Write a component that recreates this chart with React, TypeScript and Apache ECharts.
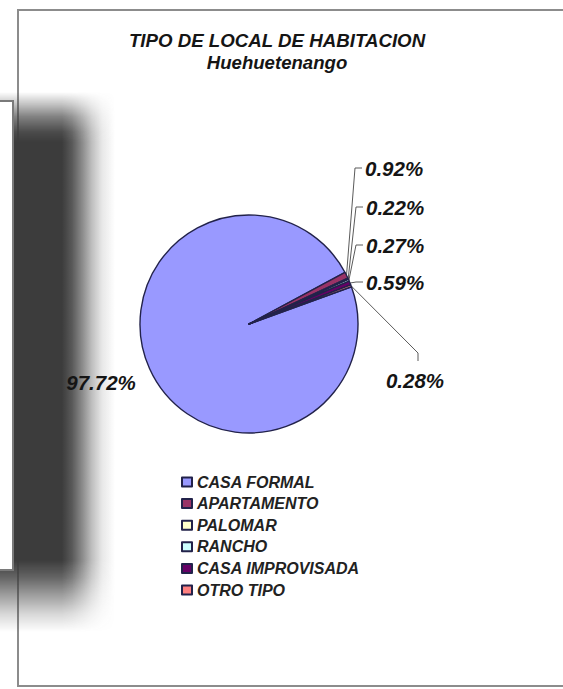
import React, { useEffect, useRef } from "react";
import * as echarts from "echarts";

// ---- data ----
const categories = [
  "CASA FORMAL",
  "APARTAMENTO",
  "PALOMAR",
  "RANCHO",
  "CASA IMPROVISADA",
  "OTRO TIPO",
];
const percentages = [97.72, 0.92, 0.22, 0.27, 0.59, 0.28];
const sliceColors = ["#9999FF", "#993366", "#FFFFCC", "#CCFFFF", "#660066", "#FF8080"];
const titleText = "TIPO DE LOCAL DE HABITACION";
const subtitleText = "Huehuetenango";

// ---- layout ----
const FONT = 'Arial, "Liberation Sans", Helvetica, sans-serif';
const CENTER: [number, number] = [249, 324];
const RADIUS = 109;
const START_ANGLE = 20;
// label anchor per slice, Excel-like leader placement
const labelSpots = [
  { x: 101, y: 382, align: "center", line: "none" },
  { x: 365, y: 168, align: "left", line: "up" },
  { x: 366, y: 207, align: "left", line: "up" },
  { x: 366, y: 245, align: "left", line: "up" },
  { x: 366, y: 282, align: "left", line: "up" },
  { x: 415, y: 380, align: "center", line: "down" },
];

function edgePoint(idx: number): [number, number] {
  const total = percentages.reduce((a, b) => a + b, 0);
  let acc = 0;
  for (let i = 0; i < idx; i++) acc += percentages[i];
  const mid = acc + percentages[idx] / 2;
  const ang = ((START_ANGLE - (mid / total) * 360) * Math.PI) / 180;
  return [CENTER[0] + RADIUS * Math.cos(ang), CENTER[1] - RADIUS * Math.sin(ang)];
}

// shadow box spans x -10..115, y 92..632
const shadowH =
  "linear-gradient(to right, rgba(60,60,60,1) 0px, rgba(60,60,60,1) 72px, rgba(60,60,60,0.85) 82px, rgba(60,60,60,0.6) 92px, rgba(60,60,60,0.33) 102px, rgba(60,60,60,0.12) 112px, rgba(60,60,60,0) 125px)";
const shadowV =
  "linear-gradient(to bottom, rgba(0,0,0,0) 0px, rgba(0,0,0,0.3) 12px, rgba(0,0,0,0.65) 25px, rgba(0,0,0,0.92) 40px, rgba(0,0,0,1) 50px, rgba(0,0,0,1) 468px, rgba(0,0,0,0.8) 485px, rgba(0,0,0,0.5) 503px, rgba(0,0,0,0.2) 522px, rgba(0,0,0,0) 540px)";

export default function App() {
  const ref = useRef<HTMLDivElement>(null);

  useEffect(() => {
    if (!ref.current) return;
    const chart = echarts.init(ref.current, undefined, { renderer: "svg" });
    const labelText = {
      fontFamily: FONT,
      fontWeight: "bold" as const,
      fontStyle: "italic" as const,
      color: "#151515",
    };
    chart.setOption({
      animation: false,
      backgroundColor: "transparent",
      title: {
        text: titleText,
        subtext: subtitleText,
        left: "center",
        top: 29.5,
        padding: 0,
        itemGap: 0,
        textStyle: { ...labelText, fontSize: 18.7, lineHeight: 22 },
        subtextStyle: { ...labelText, fontSize: 18.6, lineHeight: 22 },
      },
      legend: {
        orient: "vertical",
        left: 181,
        top: 473.5,
        padding: 0,
        icon: "rect",
        itemWidth: 10,
        itemHeight: 9,
        itemGap: 4.6,
        selectedMode: false,
        textStyle: { ...labelText, fontSize: 16, lineHeight: 17, color: "#222" },
        data: categories,
      },
      series: [
        {
          type: "pie",
          center: CENTER,
          radius: RADIUS,
          startAngle: START_ANGLE,
          clockwise: true,
          avoidLabelOverlap: false,
          minShowLabelAngle: 0,
          silent: true,
          itemStyle: { borderColor: "#22224a", borderWidth: 1.4 },
          label: {
            show: true,
            position: "outside",
            ...labelText,
            fontSize: 20.5,
            formatter: (p: any) => `${Number(p.value).toFixed(2)}%`,
          },
          labelLine: {
            show: true,
            lineStyle: { color: "#5a5a5a", width: 1 },
          },
          labelLayout: (params: any) => {
            const spot = labelSpots[params.dataIndex];
            const out: any = {
              x: spot.x,
              y: spot.y,
              align: spot.align,
              verticalAlign: "middle",
            };
            if (spot.line !== "none") {
              const start =
                params.labelLinePoints && params.labelLinePoints[0]
                  ? params.labelLinePoints[0]
                  : edgePoint(params.dataIndex);
              if (spot.line === "up") {
                out.labelLinePoints = [
                  start,
                  [spot.x - 10, spot.y],
                  [spot.x - 3, spot.y],
                ];
              } else {
                out.labelLinePoints = [
                  start,
                  [spot.x + 3, spot.y - 27],
                  [spot.x + 3, spot.y - 19],
                ];
              }
            }
            return out;
          },
          data: categories.map((name, i) => ({
            name,
            value: percentages[i],
            itemStyle: { color: sliceColors[i] },
            labelLine: { show: i !== 0 },
          })),
        },
      ],
    });
    return () => chart.dispose();
  }, []);

  return (
    <div
      style={{
        position: "absolute",
        left: 0,
        top: 0,
        width: 563,
        height: 689,
        overflow: "hidden",
        background: "#ffffff",
      }}
    >
      {/* main chart frame */}
      <div
        style={{
          position: "absolute",
          left: 17,
          top: 9,
          width: 640,
          height: 678,
          boxSizing: "border-box",
          border: "2px solid #8c8c8c",
          background: "#ffffff",
        }}
      />
      {/* soft shadow of the left box */}
      <div
        style={{
          position: "absolute",
          left: -10,
          top: 92,
          width: 125,
          height: 540,
          backgroundImage: shadowH,
          WebkitMaskImage: shadowV,
          maskImage: shadowV,
        } as any}
      />
      {/* partially visible left box */}
      <div
        style={{
          position: "absolute",
          left: -20,
          top: 100,
          width: 34,
          height: 471,
          boxSizing: "border-box",
          border: "2px solid #7a7a7a",
          background: "#ffffff",
        }}
      />
      <div
        ref={ref}
        style={{ position: "absolute", left: 0, top: 0, width: 554, height: 689 }}
      />
    </div>
  );
}
